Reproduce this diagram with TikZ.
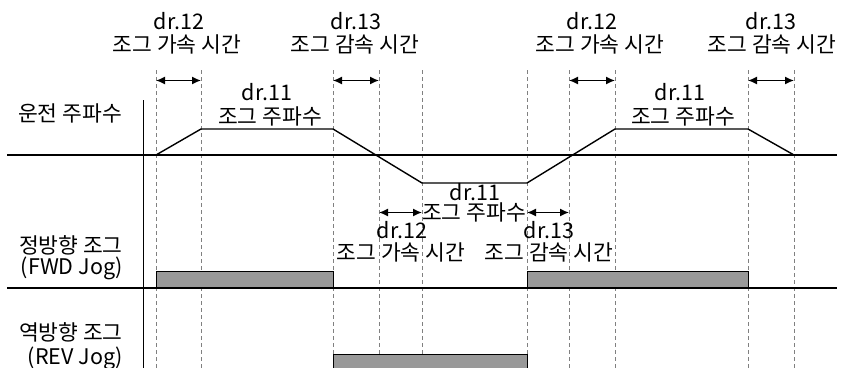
\documentclass[tikz,border=0pt]{standalone}
\usepackage{fontspec}
\setmainfont{Noto Sans CJK KR}
\usetikzlibrary{arrows.meta}
\begin{document}
\begin{tikzpicture}[x=1pt,y=-1pt,
  lbl/.style={font=\fontsize{21.5}{23}\selectfont, inner sep=0pt, anchor=center},
  lblr/.style={lbl, anchor=east},
  axis/.style={line width=1.8pt},
  guide/.style={draw=black!50, line width=0.8pt, dash pattern=on 4pt off 3pt},
  dim/.style={line width=1.4pt, {Latex[length=9pt,width=8pt]}-{Latex[length=9pt,width=8pt]}},
  profile/.style={line width=1.4pt},
  pulse/.style={draw=black, line width=1.3pt, fill=black!40}]
\useasboundingbox (0,0) rectangle (843,367);
\clip (0,0) rectangle (843,367);
% guide lines
\foreach \n/\x in {a/156,b/201,c/333,d/379,e/422,f/527,g/569,h/615,i/748,j/794}{
  \coordinate (\n t) at (\x,70);
  \coordinate (\n b) at (\x,370);
  \draw[guide] (\n t) -- (\n b);
}
% axes
\coordinate (vt) at (143.5,100);
\coordinate (vb) at (143.5,370);
\draw[axis] (vt) -- (vb);
\coordinate (fl) at (7,155);
\coordinate (fr) at (837,155);
\draw[axis] (fl) -- (fr);
\coordinate (gl) at (7,288);
\coordinate (gr) at (837,288);
\draw[axis] (gl) -- (gr);
% frequency profile
\coordinate (p0) at (156,155);
\coordinate (p1) at (201,129);
\coordinate (p2) at (333,129);
\coordinate (p3) at (422,183);
\coordinate (p4) at (527,183);
\coordinate (p5) at (615,129);
\coordinate (p6) at (748,129);
\coordinate (p7) at (794,155);
\draw[profile] (p0) -- (p1) -- (p2) -- (p3) -- (p4) -- (p5) -- (p6) -- (p7);
% pulses
\node[pulse, minimum width=177pt, minimum height=16pt, inner sep=0pt, anchor=south west] (fwd1) at (156,288) {};
\node[pulse, minimum width=221pt, minimum height=16pt, inner sep=0pt, anchor=south west] (fwd2) at (527,288) {};
\node[pulse, minimum width=194pt, minimum height=20pt, inner sep=0pt, anchor=north west] (rev1) at (333,354) {};
% dimension arrows
\coordinate (ab1) at (156,80.5); \coordinate (ab2) at (201,80.5);
\coordinate (cd1) at (333,80.5); \coordinate (cd2) at (379,80.5);
\coordinate (gh1) at (569,80.5); \coordinate (gh2) at (615,80.5);
\coordinate (ij1) at (748,80.5); \coordinate (ij2) at (794,80.5);
\coordinate (de1) at (379,212.5); \coordinate (de2) at (422,212.5);
\coordinate (fg1) at (527,212.5); \coordinate (fg2) at (569,212.5);
\draw[dim] (ab1) -- (ab2);
\draw[dim] (cd1) -- (cd2);
\draw[dim] (gh1) -- (gh2);
\draw[dim] (ij1) -- (ij2);
\draw[dim] (de1) -- (de2);
\draw[dim] (fg1) -- (fg2);
% labels
\node[lbl] (t1a) at (179,21.5) {dr.12};
\node[lbl] (t1b) at (177,44.5) {조그 가속 시간};
\node[lbl] (t2a) at (356,21.5) {dr.13};
\node[lbl] (t2b) at (355,44.5) {조그 감속 시간};
\node[lbl] (t3a) at (592,21.5) {dr.12};
\node[lbl] (t3b) at (600,44.5) {조그 가속 시간};
\node[lbl] (t4a) at (771,21.5) {dr.13};
\node[lbl] (t4b) at (772,44.5) {조그 감속 시간};
\node[lbl] (f1a) at (267,92) {dr.11};
\node[lbl] (f1b) at (270,116) {조그 주파수};
\node[lbl] (f2a) at (680,92) {dr.11};
\node[lbl] (f2b) at (683,116) {조그 주파수};
\node[lbl] (run) at (70,113) {운전 주파수};
\node[lbl] (m1a) at (475,192.5) {dr.11};
\node[lbl] (m1b) at (474,212.5) {조그 주파수};
\node[lbl] (m2a) at (402,230.5) {dr.12};
\node[lbl] (m2b) at (401,252.5) {조그 가속 시간};
\node[lbl] (m3a) at (549,230.5) {dr.13};
\node[lbl] (m3b) at (549,252.5) {조그 감속 시간};
\node[lblr] (fw1) at (123,245) {정방향 조그};
\node[lblr] (fw2) at (123,268) {(FWD Jog)};
\node[lblr] (rv1) at (123,332) {역방향 조그};
\node[lblr] (rv2) at (123,358) {(REV Jog)};
\end{tikzpicture}
\end{document}
